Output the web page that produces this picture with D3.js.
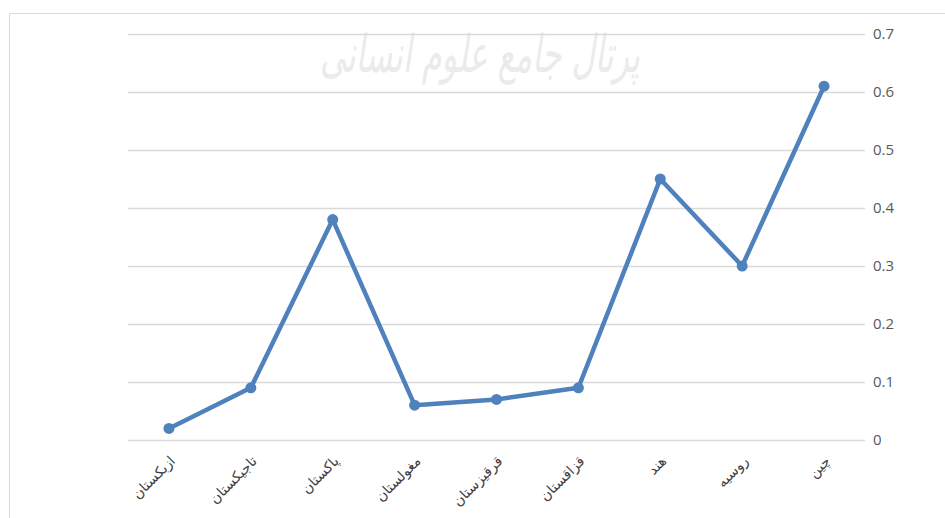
<!DOCTYPE html>
<html>
<head>
<meta charset="utf-8">
<script src="https://cdn.jsdelivr.net/npm/d3@7"></script>
<style>
  body { margin: 0; background: #fff; }
  svg { display: block; }
</style>
</head>
<body>
<script>
var width = 945, height = 518;

// data
var countries = ["ازبکستان", "تاجیکستان", "پاکستان", "مغولستان", "قرقیزستان", "قزاقستان", "هند", "روسیه", "چین"];
var values = [0.02, 0.09, 0.38, 0.06, 0.07, 0.09, 0.45, 0.30, 0.61];
var yTicks = [0, 0.1, 0.2, 0.3, 0.4, 0.5, 0.6, 0.7];

var plot = {left: 128, right: 865, top: 34, bottom: 440};

var svg = d3.select("body").append("svg")
    .attr("width", width)
    .attr("height", height);

// outer frame (only top and left visible)
svg.append("path")
    .attr("d", "M9.5," + height + " V13.5 H" + width)
    .attr("fill", "none")
    .attr("stroke", "#d9d9d9")
    .attr("stroke-width", 1);

// watermark
svg.append("text")
    .attr("x", 480)
    .attr("y", 72)
    .attr("text-anchor", "middle")
    .attr("textLength", 320)
    .attr("lengthAdjust", "spacingAndGlyphs")
    .style("font-family", "'DejaVu Sans', sans-serif")
    .style("font-size", "52px")
    .style("font-style", "italic")
    .attr("fill", "#ebebeb")
    .text("پرتال جامع علوم انسانی");

var x = d3.scaleBand().domain(countries).range([plot.left, plot.right]);
var y = d3.scaleLinear().domain([0, 0.7]).range([plot.bottom, plot.top]);

// gridlines
svg.append("g")
    .attr("class", "grid")
    .selectAll("line")
    .data(yTicks)
    .enter().append("line")
    .attr("x1", plot.left)
    .attr("x2", plot.right)
    .attr("y1", function(d) { return Math.round(y(d)) + 0.5; })
    .attr("y2", function(d) { return Math.round(y(d)) + 0.5; })
    .attr("stroke", "#d9d9d9")
    .attr("stroke-width", 1.3);

// y axis on the right
var yAxis = d3.axisRight(y).tickValues(yTicks).tickSize(0).tickPadding(8)
    .tickFormat(function(d) { return d === 0 ? "0" : d3.format(".1f")(d); });

svg.append("g")
    .attr("transform", "translate(" + plot.right + ",0)")
    .call(yAxis)
    .call(function(g) { g.select(".domain").remove(); })
    .selectAll("text")
    .style("font-family", "'Open Sans', 'Liberation Sans', sans-serif")
    .style("font-size", "15px")
    .attr("fill", "#595959");

// x axis labels
var xAxis = d3.axisBottom(x).tickSize(0).tickPadding(0);

svg.append("g")
    .attr("transform", "translate(0," + plot.bottom + ")")
    .call(xAxis)
    .call(function(g) { g.select(".domain").remove(); })
    .selectAll("text")
    .style("font-family", "'DejaVu Sans', serif")
    .style("font-size", "14px")
    .attr("fill", "#404040")
    .style("text-anchor", "end")
    .attr("dy", "0")
    .attr("transform", "translate(7,22) rotate(-45)");

// line
var line = d3.line()
    .x(function(d, i) { return x(countries[i]) + x.bandwidth() / 2; })
    .y(function(d) { return y(d); });

svg.append("path")
    .datum(values)
    .attr("d", line)
    .attr("fill", "none")
    .attr("stroke", "#4f81bd")
    .attr("stroke-width", 4.5)
    .attr("stroke-linejoin", "round");

svg.selectAll(".dot")
    .data(values)
    .enter().append("circle")
    .attr("class", "dot")
    .attr("cx", function(d, i) { return x(countries[i]) + x.bandwidth() / 2; })
    .attr("cy", function(d) { return y(d); })
    .attr("r", 5.5)
    .attr("fill", "#4f81bd");
</script>
</body>
</html>
